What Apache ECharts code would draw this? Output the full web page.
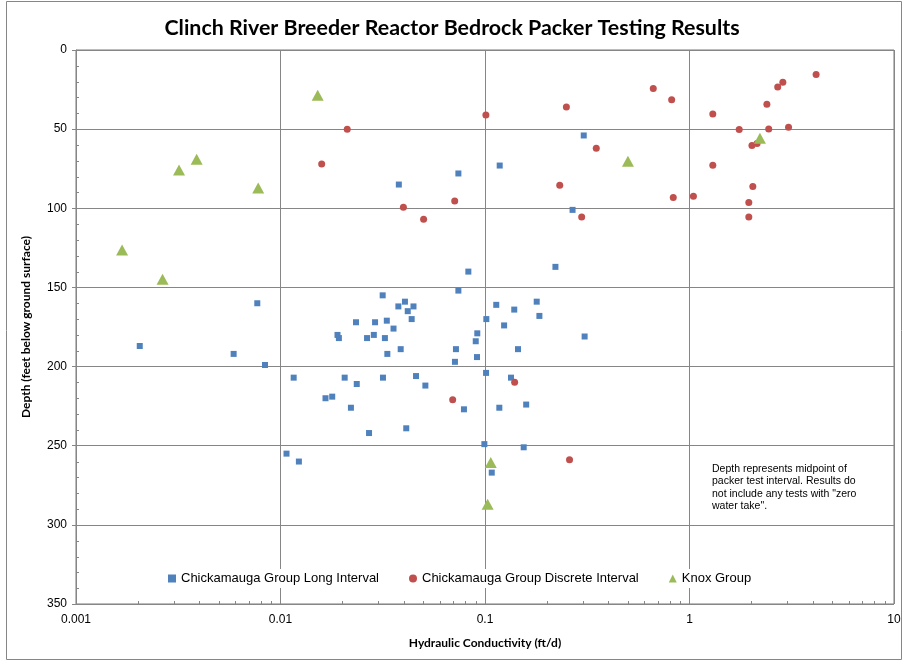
<!DOCTYPE html>
<html>
<head>
<meta charset="utf-8">
<script src="https://cdn.jsdelivr.net/npm/echarts@6/dist/echarts.min.js"></script>
<style>
  html, body { margin: 0; padding: 0; background: #fff; }
  #chart { width: 904px; height: 662px; }
</style>
</head>
<body>
<div id="chart"></div>
<script>
// [hydraulic conductivity (ft/d), depth (ft)]
var longInterval = [
  [0.304, 54], [0.118, 73], [0.0741, 78], [0.0379, 85], [0.268, 101],
  [0.0829, 140], [0.221, 137], [0.0741, 152], [0.0077, 160], [0.0316, 155],
  [0.0234, 172], [0.029, 172], [0.0331, 171], [0.019, 180], [0.0193, 182],
  [0.0265, 182], [0.0286, 180], [0.0324, 182], [0.0333, 192], [0.0084, 199],
  [0.0116, 207], [0.0206, 207], [0.0236, 211], [0.0317, 207], [0.0166, 220],
  [0.0179, 219], [0.0377, 162], [0.0406, 159], [0.0447, 162], [0.0419, 165],
  [0.0438, 170], [0.0357, 176], [0.0387, 189], [0.1135, 161], [0.139, 164],
  [0.1015, 170], [0.124, 174], [0.0917, 179], [0.0901, 184], [0.0721, 189],
  [0.0914, 194], [0.0713, 197], [0.145, 189], [0.1012, 204], [0.046, 206],
  [0.0511, 212], [0.134, 207], [0.179, 159], [0.1845, 168], [0.307, 181],
  [0.1175, 226], [0.159, 224], [0.0789, 227], [0.0221, 226], [0.0412, 239],
  [0.0271, 242], [0.0993, 249], [0.1546, 251], [0.1079, 267], [0.00205, 187],
  [0.0059, 192], [0.0107, 255], [0.0123, 260]
];
var discreteInterval = [
  [0.0212, 50], [0.0159, 72], [0.101, 41], [0.25, 36], [0.35, 62],
  [0.232, 85.5], [0.297, 105.5], [0.0399, 99.4], [0.0501, 107], [0.0711, 95.4],
  [0.665, 24.4], [0.818, 31.4], [1.3, 40.4], [1.75, 50.3], [2.39, 34.3],
  [2.7, 23.3], [2.86, 20.4], [4.16, 15.4], [2.44, 49.9], [3.05, 48.8],
  [2.02, 60.4], [2.14, 59.1], [1.3, 72.8], [2.04, 86.3], [0.833, 93.2],
  [1.045, 92.4], [1.95, 96.4], [1.95, 105.5], [0.0695, 220.9], [0.1396, 209.9],
  [0.259, 258.8]
];
var knoxGroup = [
  [0.0152, 28.6], [0.00319, 75.8], [0.00389, 69], [0.00778, 87.2], [0.00168, 126.3],
  [0.00265, 144.8], [0.5, 70.3], [2.21, 55.8], [0.1067, 260.6], [0.103, 287]
];
var seriesNames = ['Chickamauga Group Long Interval', 'Chickamauga Group Discrete Interval', 'Knox Group'];
var decades = [0.001, 0.01, 0.1, 1];
var depthMinor = [10, 20, 30, 40, 60, 70, 80, 90, 110, 120, 130, 140, 160, 170, 180, 190,
  210, 220, 230, 240, 260, 270, 280, 290, 310, 320, 330, 340];

// log minor tick positions 2..9 in each decade
var xMinor = [];
decades.forEach(function (d) {
  for (var m = 2; m <= 9; m++) xMinor.push([d * m, 350]);
});
var yMinor = depthMinor.map(function (v) { return [0.001, v]; });

var gridCol = '#868686';
var chart = echarts.init(document.getElementById('chart'));

chart.setOption({
  animation: false,
  backgroundColor: '#fff',
  title: {
    text: 'Clinch River Breeder Reactor Bedrock Packer Testing Results',
    left: 'center',
    top: 13,
    textStyle: { fontFamily: 'Lato', fontWeight: 'bold', fontSize: 21.4, color: '#000' }
  },
  grid: {
    left: 76, right: 10, top: 50, bottom: 58,
    show: true, borderColor: '#4f81bd', borderWidth: 1
  },
  legend: {
    data: seriesNames,
    left: 164, top: 569,
    itemWidth: 8, itemHeight: 8, itemGap: 30,
    backgroundColor: '#fff',
    padding: [3, 4],
    textStyle: { fontFamily: 'Liberation Sans', fontSize: 13, color: '#000' }
  },
  xAxis: {
    type: 'log', logBase: 10, min: 0.001, max: 10,
    name: 'Hydraulic Conductivity (ft/d)',
    nameLocation: 'middle', nameGap: 33,
    nameTextStyle: { fontFamily: 'Lato', fontWeight: 'bold', fontSize: 12, color: '#000' },
    axisLine: { lineStyle: { color: gridCol } },
    axisTick: { show: true, length: 5, lineStyle: { color: gridCol } },
    axisLabel: { fontFamily: 'Liberation Sans', fontSize: 12, color: '#000', margin: 10 },
    splitLine: { show: true, lineStyle: { color: gridCol, width: 1 } }
  },
  yAxis: {
    type: 'value', inverse: true, min: 0, max: 350, interval: 50,
    name: 'Depth (feet below ground surface)',
    nameLocation: 'middle', nameGap: 44,
    nameTextStyle: { fontFamily: 'Lato', fontWeight: 'bold', fontSize: 12, color: '#000' },
    axisLine: { show: true, lineStyle: { color: gridCol } },
    axisTick: { show: true, length: 4, lineStyle: { color: gridCol } },
    axisLabel: { fontFamily: 'Liberation Sans', fontSize: 12, color: '#000', margin: 9 },
    splitLine: { show: true, lineStyle: { color: gridCol, width: 1 } }
  },
  graphic: [
    {
      type: 'rect', silent: true,
      shape: { x: 6.5, y: 1.5, width: 895, height: 658 },
      style: { fill: 'none', stroke: '#868686', lineWidth: 1 }
    },
    {
      type: 'text', left: 712, top: 463, silent: true,
      style: {
        text: 'Depth represents midpoint of\npacker test interval. Results do\nnot include any tests with "zero\nwater take".',
        fontFamily: 'Liberation Sans', fontSize: 10.5, lineHeight: 12.3, fill: '#000'
      }
    }
  ],
  series: [
    {
      type: 'custom', silent: true, clip: false, z: 1,
      data: xMinor,
      renderItem: function (params, api) {
        var p = api.coord([api.value(0), api.value(1)]);
        return { type: 'line', shape: { x1: Math.round(p[0]) + 0.5, y1: p[1], x2: Math.round(p[0]) + 0.5, y2: p[1] - 3 },
          style: { stroke: gridCol, lineWidth: 1 } };
      }
    },
    {
      type: 'custom', silent: true, clip: false, z: 1,
      data: yMinor,
      renderItem: function (params, api) {
        var p = api.coord([api.value(0), api.value(1)]);
        return { type: 'line', shape: { x1: p[0], y1: Math.round(p[1]) + 0.5, x2: p[0] + 3, y2: Math.round(p[1]) + 0.5 },
          style: { stroke: gridCol, lineWidth: 1 } };
      }
    },
    {
      name: seriesNames[0], type: 'scatter', data: longInterval,
      symbol: 'rect', symbolSize: 6,
      itemStyle: { color: '#4f81bd', opacity: 1 }
    },
    {
      name: seriesNames[1], type: 'scatter', data: discreteInterval,
      symbol: 'circle', symbolSize: 7,
      itemStyle: { color: '#c0504d', opacity: 1 }
    },
    {
      name: seriesNames[2], type: 'scatter', data: knoxGroup,
      symbol: 'triangle', symbolSize: [12, 11],
      itemStyle: { color: '#9bbb59', opacity: 1 }
    }
  ]
});
</script>
</body>
</html>
